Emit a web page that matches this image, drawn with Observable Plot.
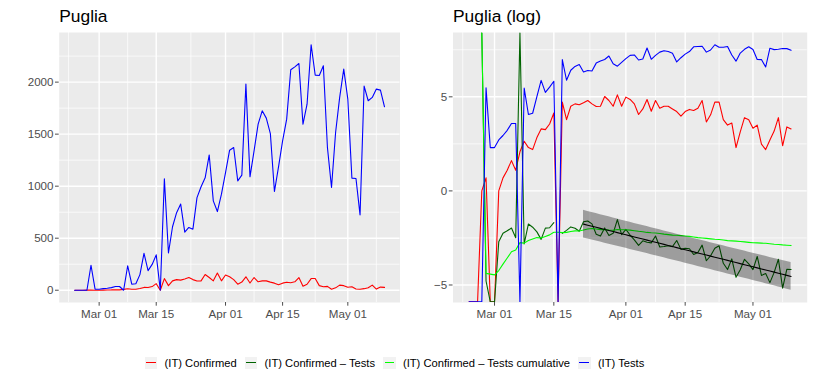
<!DOCTYPE html>
<html><head><meta charset="utf-8">
<script src="https://cdn.jsdelivr.net/npm/d3@7"></script>
<script src="https://cdn.jsdelivr.net/npm/@observablehq/plot@0.6"></script>
<style>
body{margin:0;background:#fff;font-family:"Liberation Sans",Arial,Helvetica,sans-serif;}
#wrap{position:relative;width:814px;height:380px;overflow:hidden;background:#fff;}
#left,#right{position:absolute;top:0;}
#left{left:0}
#right{left:407px}
#legend{position:absolute;left:145px;top:356.5px;display:flex;align-items:center;font-size:11.2px;color:#000;white-space:nowrap;line-height:12.3px;}
.key{width:12.3px;height:12.3px;background:#F2F2F2;position:relative;margin-right:7.3px;flex:none;}
.key i{position:absolute;left:1.2px;right:1.2px;top:5.6px;height:1.1px;display:block;}
.item{display:flex;align-items:center;margin-right:8.3px;}
</style></head><body>
<div id="wrap"><div id="left"></div><div id="right"></div><div id="legend"></div></div>
<script>
// ---- data (daily values, 2020-02-24 .. 2020-05-10) ----
const startDate = "2020-02-24";
const confirmed = [0,0,0,1,2,0,0,1,2,3,5,3,8,14,10,9,17,27,26,35,63,0,
  112,44,90,102,97,108,122,102,89,90,151,122,90,165,90,146,129,102,58,78,129,69,122,81,90,90,78,68,
  53,68,76,72,81,122,39,57,112,112,44,33,37,10,23,49,44,28,33,12,9,15,24,49,11,30,27];
const tests = [0,0,0,0,240,10,10,15,19,25,36,36,0,235,58,62,150,355,188,248,340,0,
  1070,358,610,745,828,558,603,587,890,995,1080,1300,859,756,923,1131,1346,1372,1051,1106,1981,1090,1340,1596,1724,1654,1506,949,
  1186,1436,1644,2119,2147,2179,1596,1788,2359,2067,2064,2157,1372,987,1516,1853,2125,1837,1077,1074,724,1962,1821,1853,1933,1923,1763];
const seriesNames = ["(IT) Confirmed","(IT) Confirmed – Tests","(IT) Confirmed – Tests cumulative","(IT) Tests"];
const seriesColors = ["#FF0000","#006400","#00FF00","#0000FF"];
const titles = ["Puglia","Puglia (log)"];
const xTicks = ["2020-03-01","2020-03-15","2020-04-01","2020-04-15","2020-05-01"];
const xMinor = ["2020-02-22T12:00","2020-03-08T00:00","2020-03-23T12:00","2020-04-08T00:00","2020-04-23T00:00","2020-05-08T00:00"];
const yTicksLin = [0,500,1000,1500,2000];
const yMinorLin = [250,750,1250,1750,2250];
const yTicksLog = [-5,0,5];
const yMinorLog = [-2.5,2.5,7.5];
const fitStart = "2020-03-22";
const tCrit = 2.0106; // t(0.975, df=48)

// ---- derived ----
const parse = s => new Date(s.length === 10 ? s + "T00:00:00Z" : s + ":00Z");
const DAY = 864e5;
const t0 = parse(startDate);
const dates = confirmed.map((_, i) => new Date(+t0 + i * DAY));
const span = +dates[dates.length-1] - +dates[0];
const xDomain = [new Date(+dates[0] - 0.05*span), new Date(+dates[dates.length-1] + 0.05*span)];
const xTickDates = xTicks.map(parse), xMinorDates = xMinor.map(parse);
const fmtDate = d3.utcFormat("%b %d");
const fmtNum = d => d < 0 ? "\u2212" + Math.abs(d) : String(d);
const FONT = "Liberation Sans, Arial, Helvetica, sans-serif";

const logC = confirmed.map(Math.log), logT = tests.map(Math.log);
const diff = logC.map((v, i) => v - logT[i]);
let cc = 0, ct = 0;
const cum = confirmed.map((c, i) => { cc += c; ct += tests[i]; return Math.log(cc / ct); });

// regression on diff from fitStart
const fs = parse(fitStart);
const fitI = dates.map((d, i) => i).filter(i => dates[i] >= fs && isFinite(diff[i]));
const n = fitI.length;
const xs = fitI.map(i => i), ys = fitI.map(i => diff[i]);
const mx = d3.mean(xs), my = d3.mean(ys);
const sxx = d3.sum(xs, x => (x - mx) ** 2), sxy = d3.sum(xs, (x, k) => (x - mx) * (ys[k] - my));
const b = sxy / sxx, a = my - b * mx;
const s = Math.sqrt(d3.sum(xs, (x, k) => (ys[k] - a - b * x) ** 2) / (n - 2));
const fitRows = xs.map(x => {
  const f = a + b * x, h = tCrit * s * Math.sqrt(1 + 1/n + (x - mx) ** 2 / sxx);
  return {date: dates[x], fit: f, lo: f - h, hi: f + h};
});

// y domains (finite data, 5% expansion)
function expand(ext){ const r = ext[1]-ext[0]; return [ext[0]-0.05*r, ext[1]+0.05*r]; }
const yDomLin = expand([d3.min([...confirmed, ...tests]), d3.max([...confirmed, ...tests])]);
const finite = [...logC, ...logT, ...diff, ...cum, ...fitRows.map(r=>r.lo), ...fitRows.map(r=>r.hi)].filter(Number.isFinite);
const yDomLog = expand(d3.extent(finite));
// infinite values sit on the panel edge (just inside so the stroke shows)
const inset = (yDomLog[1] - yDomLog[0]) * 0.6 / 270;
const edge = v => v === Infinity ? yDomLog[1] - inset : v === -Infinity ? yDomLog[0] + inset : v;

const rowsOf = arr => arr.map((v, i) => ({date: dates[i], v}));
const rowsLog = arr => arr.map((v, i) => ({date: dates[i], v: edge(v)}));

function grids(yMinor, yMajor){
  return [
    Plot.frame({fill:"#EBEBEB", stroke:"none"}),
    Plot.gridX(xMinorDates, {stroke:"white", strokeOpacity:1, strokeWidth:0.7}),
    Plot.gridY(yMinor, {stroke:"white", strokeOpacity:1, strokeWidth:0.7}),
    Plot.gridX(xTickDates, {stroke:"white", strokeOpacity:1, strokeWidth:1.4}),
    Plot.gridY(yMajor, {stroke:"white", strokeOpacity:1, strokeWidth:1.4})
  ];
}
function axes(yTicks, title){
  return [
    Plot.axisX({ticks:xTickDates, tickFormat:fmtDate, tickSize:3.7, tickPadding:3.2, fontSize:11.6, color:"#4D4D4D", label:null}),
    Plot.axisY({ticks:yTicks, tickFormat:fmtNum, tickSize:3.7, tickPadding:2, fontSize:11.6, color:"#4D4D4D", label:null}),
    Plot.text([title], {frameAnchor:"top-left", text:d=>d, dy:-11, lineAnchor:"bottom", textAnchor:"start", fontSize:17.4, fill:"black"})
  ];
}
const lw = 1.1;

const left = Plot.plot({
  width:407, height:330, marginLeft:58.7, marginRight:7.5, marginTop:32, marginBottom:28,
  style:{fontFamily:FONT, background:"transparent", overflow:"visible"},
  x:{type:"utc", domain:xDomain}, y:{domain:yDomLin},
  marks:[
    ...grids(yMinorLin, yTicksLin),
    Plot.line(rowsOf(confirmed), {x:"date", y:"v", stroke:seriesColors[0], strokeWidth:lw, clip:true}),
    Plot.line(rowsOf(tests), {x:"date", y:"v", stroke:seriesColors[3], strokeWidth:lw, clip:true}),
    ...axes(yTicksLin, titles[0])
  ]
});
document.getElementById("left").append(left);

const right = Plot.plot({
  width:407, height:330, marginLeft:45.5, marginRight:7.3, marginTop:32, marginBottom:28,
  style:{fontFamily:FONT, background:"transparent", overflow:"visible"},
  x:{type:"utc", domain:xDomain}, y:{domain:yDomLog},
  marks:[
    ...grids(yMinorLog, yTicksLog),
    Plot.line(rowsLog(logC), {x:"date", y:"v", stroke:seriesColors[0], strokeWidth:lw, clip:true}),
    Plot.line(rowsLog(diff), {x:"date", y:"v", stroke:seriesColors[1], strokeWidth:lw, clip:true}),
    Plot.line(rowsLog(cum), {x:"date", y:"v", stroke:seriesColors[2], strokeWidth:lw, clip:true}),
    Plot.line(rowsLog(logT), {x:"date", y:"v", stroke:seriesColors[3], strokeWidth:lw, clip:true}),
    Plot.areaY(fitRows, {x:"date", y1:"lo", y2:"hi", fill:"black", fillOpacity:0.33, clip:true}),
    Plot.line(fitRows, {x:"date", y:"fit", stroke:"black", strokeWidth:lw, clip:true}),
    ...axes(yTicksLog, titles[1])
  ]
});
document.getElementById("right").append(right);

// legend
const lg = document.getElementById("legend");
seriesNames.forEach((name, i) => {
  const it = document.createElement("div"); it.className = "item";
  const k = document.createElement("div"); k.className = "key";
  const ln = document.createElement("i"); ln.style.background = seriesColors[i];
  k.append(ln);
  const t = document.createElement("span"); t.textContent = name;
  it.append(k, t); lg.append(it);
});
</script>
</body></html>
